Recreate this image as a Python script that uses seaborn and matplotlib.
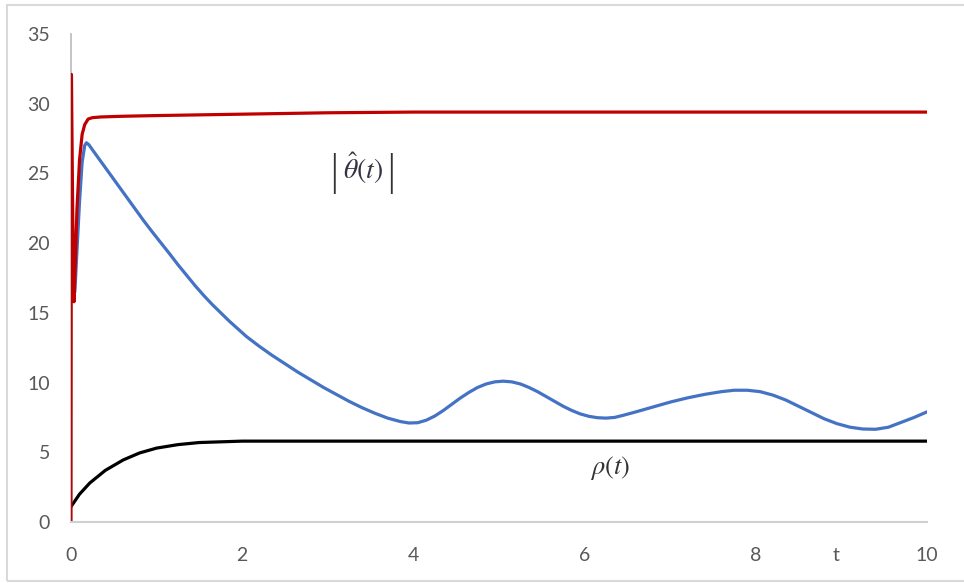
import matplotlib
matplotlib.use("Agg")
import matplotlib.pyplot as plt
import matplotlib.patches as patches
import seaborn as sns
import pandas as pd

# --- data ---
theta_t = [0.0, 0.005, 0.02, 0.035, 0.05, 0.07, 0.10, 0.13, 0.16, 0.20, 0.25, 0.35,
           0.6, 1.0, 2.0, 3.0, 4.0, 10.0]
theta_v = [0.0, 32.1, 22.0, 15.8, 18.5, 22.5, 26.0, 27.8, 28.5, 28.9, 29.0, 29.05,
           29.1, 29.15, 29.25, 29.35, 29.4, 29.4]

blue_t = [0.045, 0.07, 0.10, 0.13, 0.16, 0.18, 0.21, 0.25, 0.35, 0.45, 0.55, 0.65,
          0.75, 0.85, 0.95, 1.04, 1.15, 1.25, 1.35, 1.45, 1.55, 1.65, 1.75, 1.85,
          1.95, 2.05, 2.2, 2.35, 2.5, 2.65, 2.8, 2.95, 3.1, 3.25, 3.4, 3.55, 3.7,
          3.85, 3.95, 4.05, 4.15, 4.25, 4.35, 4.45, 4.55, 4.65, 4.75, 4.85, 4.95,
          5.05, 5.15, 5.25, 5.35, 5.45, 5.55, 5.65, 5.75, 5.85, 5.95, 6.05, 6.15,
          6.25, 6.35, 6.45, 6.6, 6.8, 7.0, 7.2, 7.4, 7.6, 7.75, 7.9, 8.05, 8.2,
          8.35, 8.5, 8.65, 8.8, 8.95, 9.1, 9.25, 9.4, 9.55, 9.7, 9.85, 10.0]
blue_v = [16.5, 19.5, 23.0, 25.8, 27.0, 27.2, 27.05, 26.7, 25.85, 25.0, 24.15, 23.3,
          22.45, 21.6, 20.8, 20.1, 19.25, 18.45, 17.7, 16.95, 16.25, 15.6, 15.0, 14.4,
          13.85, 13.3, 12.6, 11.95, 11.35, 10.75, 10.2, 9.65, 9.15, 8.65, 8.2, 7.8,
          7.45, 7.2, 7.1, 7.12, 7.3, 7.6, 8.0, 8.45, 8.9, 9.3, 9.65, 9.9, 10.05,
          10.1, 10.05, 9.9, 9.65, 9.35, 9.0, 8.65, 8.3, 8.0, 7.75, 7.58, 7.48,
          7.45, 7.5, 7.65, 7.9, 8.25, 8.6, 8.9, 9.15, 9.35, 9.45, 9.45, 9.35, 9.1,
          8.75, 8.3, 7.85, 7.4, 7.05, 6.8, 6.67, 6.65, 6.8, 7.15, 7.5, 7.9]

rho_t = [0.0, 0.1, 0.22, 0.4, 0.61, 0.8, 1.0, 1.25, 1.5, 2.0, 10.0]
rho_v = [1.1, 2.0, 2.8, 3.7, 4.45, 4.95, 5.3, 5.55, 5.7, 5.8, 5.8]

x_ticks = [0, 2, 4, 6, 8, 10]
y_ticks = [0, 5, 10, 15, 20, 25, 30, 35]

sns.set_style("white")
plt.rcParams['font.family'] = ['Lato', 'DejaVu Sans']
plt.rcParams['mathtext.fontset'] = 'stix'

fig = plt.figure(figsize=(9.64, 5.83), dpi=100)
ax = fig.add_axes([71 / 964, 61 / 583, 856 / 964, 488 / 583])

lw = 2.3
kw = dict(solid_capstyle='round', solid_joinstyle='round', sort=False, estimator=None)
sns.lineplot(data=pd.DataFrame({'t': blue_t, 'v': blue_v}), x='t', y='v',
             color='#4472C4', lw=lw, ax=ax, **kw)
sns.lineplot(data=pd.DataFrame({'t': rho_t, 'v': rho_v}), x='t', y='v',
             color='black', lw=lw, ax=ax, **kw)
sns.lineplot(data=pd.DataFrame({'t': theta_t, 'v': theta_v}), x='t', y='v',
             color='#C00000', lw=lw, ax=ax, **kw)

ax.set_xlim(0, 10)
ax.set_ylim(0, 35)
ax.set_xticks(x_ticks)
ax.set_yticks(y_ticks)
ax.set_xlabel('')
ax.set_ylabel('')
ax.tick_params(axis='both', length=0, labelsize=14, labelcolor='#595959')
ax.tick_params(axis='x', pad=18)
ax.tick_params(axis='y', pad=15)

for s in ['top', 'right']:
    ax.spines[s].set_visible(False)
ax.spines['left'].set_color('#BFBFBF')
ax.spines['left'].set_linewidth(1.3)
ax.spines['left'].set_zorder(0.5)
ax.spines['bottom'].set_color('#D0D0D0')
ax.spines['bottom'].set_linewidth(1.5)

# axis title "t" sits in the tick label row
ax.text(8.94, -0.068, 't', transform=ax.get_xaxis_transform(), ha='center',
        va='center', fontsize=14, color='#595959')

# |theta_hat(t)| label, with tall bars
ax.text(3.41, 25.4, r'$\hat{\theta}(t)$', fontsize=20, ha='center', va='center',
        color='#333344')
ax.text(3.07, 25.0, '|', fontsize=29, ha='center', va='center',
        color='#333333', family='DejaVu Sans', fontweight='light')
ax.text(3.74, 25.0, '|', fontsize=29, ha='center', va='center',
        color='#333333', family='DejaVu Sans', fontweight='light')
ax.text(6.3, 3.9, r'$\rho(t)$', fontsize=19, ha='center', va='center',
        color='#333333')

# chart frame
fig.patches.append(patches.Rectangle((7 / 964, 2 / 583), 962 / 964, 576 / 583,
                                     transform=fig.transFigure, fill=False,
                                     edgecolor='#D9D9D9', lw=1.5))

fig.savefig('out.png', dpi=100)
